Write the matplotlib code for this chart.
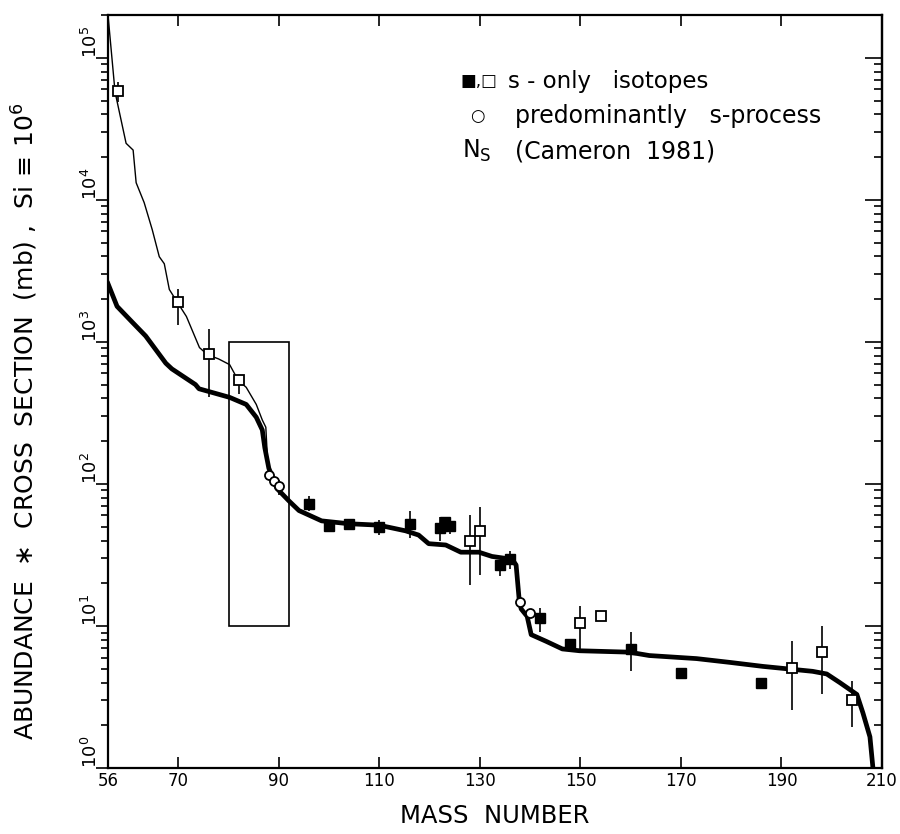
import numpy as np
import matplotlib
matplotlib.use("Agg")
import matplotlib.pyplot as plt
from matplotlib.patches import Rectangle

plt.rcParams.update({
    'font.family': 'DejaVu Sans',
    'mathtext.fontset': 'dejavusans',
})

# N_s curve (Cameron 1981), thin line
ns_mass = [56, 57.4, 59.6, 61, 61.6, 63.2, 64.8, 66.2, 67.2, 68.2, 69.8, 71.6,
           74.2, 75.8, 78, 80.2, 81.9, 83.5, 85.5, 86.7, 87.4, 87.8]
ns_val = [2.0e5, 5.75e4, 2.5e4, 2.24e4, 1.32e4, 9550, 6170, 3980, 3550, 2340, 1900, 1510,
          912, 813, 759, 692, 537, 479, 363, 282, 251, 135]

# sigma*N model curve, thick line
fit_mass = [56, 57.8, 60.8, 63.5, 67.5, 68.7, 73.4, 74.1, 80.2, 83.5, 85.5, 86.7,
            87.2, 88, 89.6, 92, 94, 98.5, 103.9, 109.9, 115.2, 117.8, 119.8, 123.2,
            126.2, 129.8, 132.4, 136.4, 137.2, 137.8, 138.2, 139.4, 140.2, 143.2,
            146.4, 149.8, 159.7, 163.7, 173.1, 179.7, 186.3, 196.2, 199.0, 201.6,
            205, 206.2, 207.6, 208.2]
fit_val = [2570, 1780, 1380, 1100, 708, 646, 501, 468, 407, 363, 295, 240,
           180, 129, 93, 76, 65, 55, 52.5, 51.3, 46.8, 43.7, 38, 37.2,
           33.1, 33.1, 30.9, 29.5, 26.9, 15.5, 13.2, 11.7, 8.7, 7.8,
           6.9, 6.7, 6.55, 6.2, 5.9, 5.55, 5.2, 4.8, 4.6, 4.0,
           3.3, 2.45, 1.66, 1.0]

# s-only isotopes, filled squares
filled_mass = [96, 100, 104, 110, 116, 122, 123, 124, 134, 136, 142, 148, 160, 170, 186]
filled_val = [72, 51, 52, 50, 52, 49, 54, 51, 26.7, 29.5, 11.4, 7.5, 6.9, 4.7, 4.0]
filled_lo = [64.6, 51, 52, 43.5, 41.9, 39.6, 47, 44.8, 22.6, 25.4, 9.1, 7.5, 4.8, 4.7, 4.0]
filled_hi = [82, 51, 52, 55.6, 64.6, 59, 59, 57.5, 28.9, 33.5, 13.4, 7.5, 9.1, 4.7, 4.0]

# s-only isotopes, open squares
open_mass = [58, 70, 76, 82, 128, 130, 150, 154, 192, 198, 204]
open_val = [5.8e4, 1900, 820, 540, 40, 46.5, 10.5, 11.8, 5.1, 6.6, 3.0]
open_lo = [4.9e4, 1320, 407, 427, 19.5, 22.9, 6.9, 11.2, 2.57, 3.3, 1.95]
open_hi = [6.8e4, 2340, 1230, 589, 60, 69, 13.8, 12.4, 7.8, 10.0, 4.1]

# predominantly s-process, open circles
circ_mass = [88, 89, 90, 138, 140]
circ_val = [115, 105, 96, 14.8, 12.3]
circ_lo = [115, 105, 83, 14.2, 11.8]
circ_hi = [115, 105, 107, 15.4, 12.8]

xticks = [56, 70, 90, 110, 130, 150, 170, 190, 210]
yticks = [1, 10, 100, 1000, 1e4, 1e5]
ytick_labels = [r'$10^{0}$', r'$10^{1}$', r'$10^{2}$', r'$10^{3}$', r'$10^{4}$', r'$10^{5}$']


def asym(val, lo, hi):
    v = np.array(val)
    return [v - np.array(lo), np.array(hi) - v]


fig = plt.figure(figsize=(9, 8.34), dpi=100)
ax = fig.add_axes([0.12, 0.079, 0.86, 0.903])

ax.plot(ns_mass, ns_val, color='black', lw=1.0)
ax.plot(fit_mass, fit_val, color='black', lw=3.4, solid_joinstyle='round')

ax.errorbar(filled_mass, filled_val, yerr=asym(filled_val, filled_lo, filled_hi),
            fmt='s', ms=7.5, mfc='black', mec='black', ecolor='black', elinewidth=1.2,
            capsize=0)
ax.errorbar(open_mass, open_val, yerr=asym(open_val, open_lo, open_hi),
            fmt='s', ms=6.5, mfc='white', mec='black', mew=1.3, ecolor='black',
            elinewidth=1.2, capsize=0)
ax.errorbar(circ_mass, circ_val, yerr=asym(circ_val, circ_lo, circ_hi),
            fmt='o', ms=6.5, mfc='white', mec='black', mew=1.3, ecolor='black',
            elinewidth=1.2, capsize=0)

ax.add_patch(Rectangle((80, 10), 12, 990, fill=False, edgecolor='black', lw=1.2))

ax.set_yscale('log')
ax.set_xlim(56, 210)
ax.set_ylim(1, 2.0e5)

ax.set_xticks(xticks)
ax.set_xticklabels([str(t) for t in xticks], fontsize=12)
ax.tick_params(axis='x', bottom=True, direction='out', length=6, width=1.2, pad=3)
ax.tick_params(axis='x', top=True, direction='in', length=8, width=1.2)
ax.tick_params(axis='x', which='both', bottom=True, top=True)

ax.set_yticks(yticks)
ax.set_yticklabels(ytick_labels, fontsize=13, rotation=90, va='bottom', ha='right')
ax.tick_params(axis='y', which='major', direction='out', length=9, width=1.2, pad=-4)
ax.tick_params(axis='y', which='minor', direction='out', length=5, width=1.2)

sec = ax.secondary_yaxis('right')
sec.tick_params(axis='y', which='major', direction='in', length=12, width=1.2, labelright=False)
sec.tick_params(axis='y', which='minor', direction='in', length=6, width=1.2)
sec.set_yticks(yticks)
sec.set_yticklabels([])

for s in ax.spines.values():
    s.set_linewidth(1.6)
sec.spines['right'].set_linewidth(1.6)

ax.set_xlabel('MASS  NUMBER', fontsize=17.5)
ax.xaxis.set_label_coords(0.5, -0.047)
ax.set_ylabel('ABUNDANCE  $\\ast$  CROSS  SECTION  (mb) ,  Si$\\,\\equiv\\,10^6$',
              fontsize=18)
ax.yaxis.set_label_coords(-0.088, 0.46)

# legend-like text block
ax.text(0.455, 0.912, '■,□', transform=ax.transAxes, fontsize=12, va='center', ha='left')
ax.text(0.517, 0.912, 's - only   isotopes', transform=ax.transAxes, fontsize=16.5, va='center')
ax.text(0.468, 0.866, '○', transform=ax.transAxes, fontsize=12, va='center', ha='left')
ax.text(0.526, 0.866, 'predominantly   s-process', transform=ax.transAxes, fontsize=17, va='center')
ax.text(0.457, 0.819, r'$\mathrm{N_S}$', transform=ax.transAxes, fontsize=17, va='center')
ax.text(0.526, 0.819, '(Cameron  1981)', transform=ax.transAxes, fontsize=17, va='center')

fig.savefig('out.png', dpi=100, facecolor='white')
